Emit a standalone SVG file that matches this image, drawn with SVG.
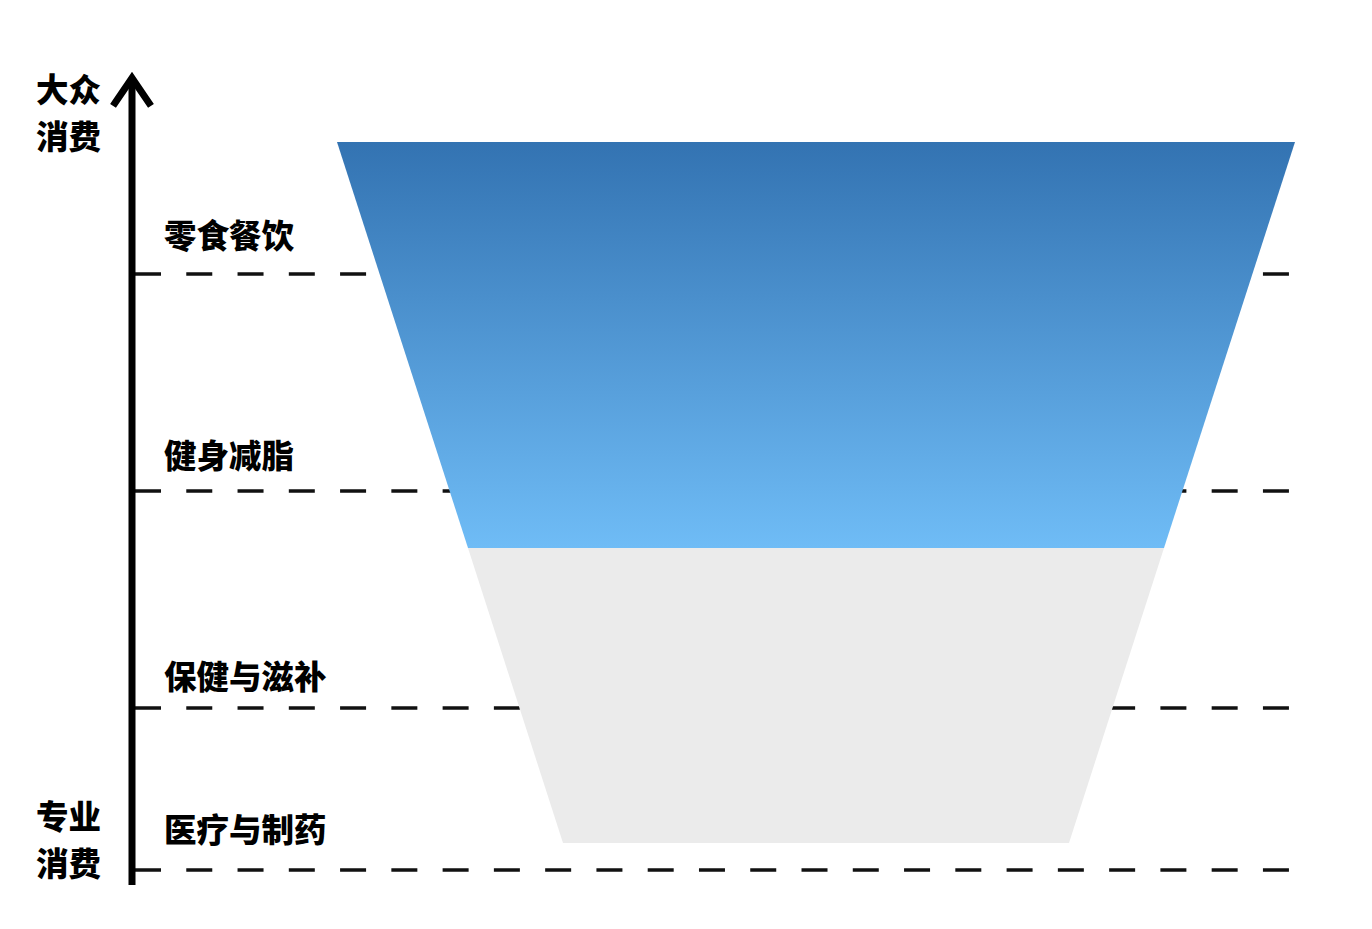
<svg xmlns="http://www.w3.org/2000/svg" width="1372" height="929" viewBox="0 0 1372 929">
<defs>
<linearGradient id="blue" x1="0" y1="0" x2="0" y2="1">
<stop offset="0" stop-color="#3373b2"/>
<stop offset="1" stop-color="#6fbcf6"/>
</linearGradient>
</defs>
<style>
.lbl{font-family:"Noto Sans CJK SC","Noto Sans",sans-serif;font-weight:900;font-size:32.5px;fill:#000}
.dash{stroke:#111;stroke-width:3.5;stroke-dasharray:26 25.27;fill:none}
</style>
<rect width="1372" height="929" fill="#fff"/>
<g id="connectors">
<line class="dash" x1="135" y1="274" x2="1290" y2="274"/>
<line class="dash" x1="135" y1="491" x2="1290" y2="491"/>
<line class="dash" x1="135" y1="708" x2="1290" y2="708"/>
<line class="dash" x1="135" y1="870" x2="1290" y2="870"/>
</g>
<g id="funnel">
<polygon id="funnel-top" points="337,142 1295,142 1164,548 468,548" fill="url(#blue)"/>
<polygon id="funnel-bottom" points="468,548 1164,548 1069,843 563,843" fill="#ebebeb"/>
</g>
<g id="axis">
<line x1="132" y1="885" x2="132" y2="80" stroke="#000" stroke-width="7"/>
<polyline points="115,103 132,78 149,103" fill="none" stroke="#000" stroke-width="7" stroke-linecap="square" stroke-linejoin="miter"/>
<text class="lbl" x="36" y="102">大众</text>
<text class="lbl" x="36" y="149">消费</text>
<text class="lbl" x="36" y="829">专业</text>
<text class="lbl" x="36" y="876">消费</text>
</g>
<g id="level1"><text class="lbl" x="164" y="248">零食餐饮</text></g>
<g id="level2"><text class="lbl" x="164" y="468">健身减脂</text></g>
<g id="level3"><text class="lbl" x="164" y="689">保健与滋补</text></g>
<g id="level4"><text class="lbl" x="164" y="842">医疗与制药</text></g>
</svg>
